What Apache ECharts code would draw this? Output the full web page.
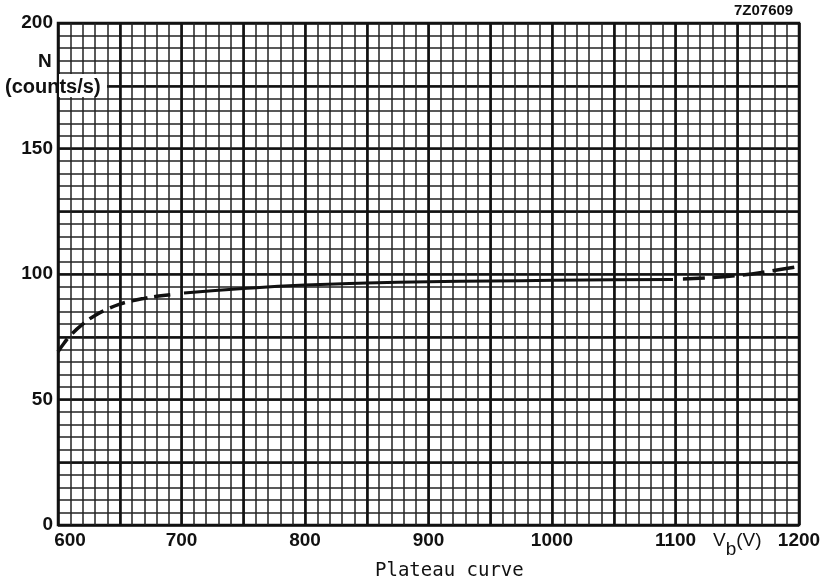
<!DOCTYPE html>
<html><head><meta charset="utf-8">
<script src="https://cdn.jsdelivr.net/npm/echarts@6/dist/echarts.min.js"></script>
<style>html,body{margin:0;padding:0;background:#fff}#c{width:828px;height:584px}</style>
</head><body><div id="c"></div>
<script>
// Plateau curve data (V in volts, N in counts/s)
var lowV  = [600, 605, 610, 620, 630, 640, 650, 660, 670, 680, 695];
var lowN  = [69, 72.5, 75.5, 80, 83.5, 86, 88, 89.3, 90.3, 91.1, 92];
var midV  = [702, 750, 800, 850, 900, 950, 1000, 1050, 1098];
var midN  = [92.4, 94.2, 95.6, 96.4, 96.9, 97.2, 97.5, 97.7, 97.8];
var highV = [1106, 1125, 1150, 1175, 1200];
var highN = [98, 98.4, 99.4, 101, 103];
var xTickLabels = [600, 700, 800, 900, 1000, 1100, 1200];
var yTickLabels = [0, 50, 100, 150, 200];

function pairs(a, b) { return a.map(function (v, i) { return [v, b[i]]; }); }

var FONT = 'Liberation Sans';
var chart = echarts.init(document.getElementById('c'));
var lineBase = { color: '#111', width: 3.5, cap: 'butt' };
var lab = { fontFamily: FONT, fontSize: 19, fontWeight: 'bold', color: '#111' };

chart.setOption({
  animation: false,
  backgroundColor: '#fff',
  grid: { left: 58, top: 23, width: 741, height: 502, show: true, borderColor: '#111', borderWidth: 2.5, backgroundColor: 'transparent' },
  xAxis: [
    { type: 'value', min: 600, max: 1200, interval: 10, axisLine: { show: false }, axisTick: { show: false }, axisLabel: { show: false },
      splitLine: { show: true, lineStyle: { color: '#222', width: 1.5 } } },
    { type: 'value', min: 600, max: 1200, interval: 50, position: 'bottom', axisLine: { show: false }, axisTick: { show: false },
      splitLine: { show: true, lineStyle: { color: '#111', width: 2.6 } },
      axisLabel: Object.assign({ show: true, margin: 6,
        formatter: function (v) {
          v = Math.round(v);
          if (v === 600) return '{s|600}';
          if (v === 1150) return '{a|V}{b|b}{a|(V)}';
          return xTickLabels.indexOf(v) >= 0 ? String(v) : '';
        },
        rich: {
          s: Object.assign({}, lab, { padding: [0, 0, 0, 24] }),
          a: Object.assign({}, lab, { fontWeight: 'normal', padding: [0, 0, 9, 0] }),
          b: Object.assign({}, lab, { fontWeight: 'normal', padding: [9, 0, 0, 0] })
        } }, lab) }
  ],
  yAxis: [
    { type: 'value', min: 0, max: 200, interval: 5, axisLine: { show: false }, axisTick: { show: false }, axisLabel: { show: false },
      splitLine: { show: true, lineStyle: { color: '#222', width: 1.5 } } },
    { type: 'value', min: 0, max: 200, interval: 25, position: 'left', axisLine: { show: false }, axisTick: { show: false },
      splitLine: { show: true, lineStyle: { color: '#111', width: 2.6 } },
      axisLabel: Object.assign({ show: true, margin: 5,
        formatter: function (v) { v = Math.round(v); return yTickLabels.indexOf(v) >= 0 ? String(v) : ''; } }, lab) }
  ],
  series: [
    { type: 'line', xAxisIndex: 0, yAxisIndex: 0, data: pairs(lowV, lowN), smooth: true, symbol: 'none',
      lineStyle: Object.assign({}, lineBase, { type: [16, 7] }), z: 5 },
    { type: 'line', xAxisIndex: 0, yAxisIndex: 0, data: pairs(midV, midN), smooth: true, symbol: 'none',
      lineStyle: Object.assign({}, lineBase, { type: 'solid', width: 3 }), z: 5 },
    { type: 'line', xAxisIndex: 0, yAxisIndex: 0, data: pairs(highV, highN), smooth: true, symbol: 'none',
      lineStyle: Object.assign({}, lineBase, { type: [22, 8] }), z: 5 }
  ],
  graphic: [
    { type: 'rect', shape: { x: 59, y: 74, width: 48, height: 23 }, style: { fill: '#fff' }, z: 100 },
    { type: 'text', left: 38, top: 52, style: { text: 'N', font: 'bold 19px ' + FONT, fill: '#111' }, z: 101 },
    { type: 'text', left: 5, top: 77, style: { text: '(counts/s)', font: 'bold 20px ' + FONT, fill: '#111' }, z: 101 },
    { type: 'text', left: 734, top: 3, style: { text: '7Z07609', font: 'bold 15px ' + FONT, fill: '#111' }, z: 101 },
    { type: 'text', left: 375, top: 562, style: { text: 'Plateau curve', font: '19px DejaVu Sans Mono', fill: '#111' }, z: 101 }
  ]
});
</script></body></html>
